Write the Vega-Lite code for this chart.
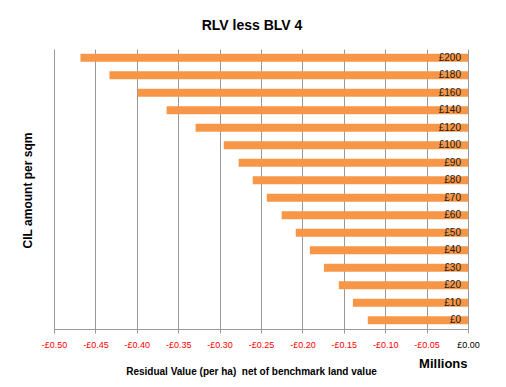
{
  "$schema": "https://vega.github.io/schema/vega-lite/v6.json",
  "autosize": {"type": "none"},
  "padding": {"left": 54, "top": 49, "right": 38, "bottom": 58},
  "width": 414,
  "height": 280,
  "background": "white",
  "title": {"text": "RLV less BLV 4", "font": "Liberation Sans", "fontSize": 14, "fontWeight": "bold", "color": "#000000", "anchor": "middle", "dx": -9, "offset": 16},
  "config": {"view": {"stroke": null}, "font": "Liberation Sans"},
  "data": {"values": [
    {"cil": "£0", "rv": -0.121},
    {"cil": "£10", "rv": -0.139},
    {"cil": "£20", "rv": -0.156},
    {"cil": "£30", "rv": -0.174},
    {"cil": "£40", "rv": -0.191},
    {"cil": "£50", "rv": -0.208},
    {"cil": "£60", "rv": -0.225},
    {"cil": "£70", "rv": -0.243},
    {"cil": "£80", "rv": -0.260},
    {"cil": "£90", "rv": -0.277},
    {"cil": "£100", "rv": -0.295},
    {"cil": "£120", "rv": -0.329},
    {"cil": "£140", "rv": -0.364},
    {"cil": "£160", "rv": -0.399},
    {"cil": "£180", "rv": -0.433},
    {"cil": "£200", "rv": -0.468}
  ]},
  "encoding": {
    "y": {
      "field": "cil", "type": "nominal",
      "sort": ["£200", "£180", "£160", "£140", "£120", "£100", "£90", "£80", "£70", "£60", "£50", "£40", "£30", "£20", "£10", "£0"],
      "scale": {"paddingInner": 0.54, "paddingOuter": 0.27},
      "axis": {"title": "CIL amount per sqm", "labels": false, "ticks": false, "domain": false, "grid": false,
               "titleFont": "Liberation Sans", "titleFontSize": 12, "titleFontWeight": "bold", "titleColor": "#000000",
               "titleX": -27, "titleY": 141, "titleAngle": -90, "titleBaseline": "middle", "titleAlign": "center"}
    }
  },
  "layer": [
    {
      "mark": {"type": "bar", "color": "#F79646"},
      "encoding": {
        "x": {"field": "rv", "type": "quantitative",
              "scale": {"domain": [-0.5, 0], "nice": false, "zero": false},
              "axis": {"values": [-0.5, -0.45, -0.4, -0.35, -0.3, -0.25, -0.2, -0.15, -0.1, -0.05, 0],
                       "labelExpr": "datum.value == 0 ? '£0.00' : '-£' + format(abs(datum.value), '.2f')",
                       "labelFont": "Liberation Sans", "labelFontSize": 9,
                       "labelColor": {"condition": {"test": "datum.value == 0", "value": "#000000"}, "value": "#ff0000"},
                       "labelPadding": 7, "labelFlush": false,
                       "tickSize": 4, "tickColor": "#999999", "domainColor": "#999999",
                       "grid": true, "gridColor": "#999999", "gridWidth": 1,
                       "title": "Residual Value (per ha)\u00a0 net of benchmark land value",
                       "titleFont": "Liberation Sans", "titleFontSize": 10, "titleFontWeight": "bold", "titleColor": "#000000",
                       "titleX": 197, "titleY": 42, "titleBaseline": "middle", "titleAlign": "center"}},
        "x2": {"datum": 0}
      }
    },
    {
      "mark": {"type": "text", "align": "right", "baseline": "middle", "dx": -7, "font": "Liberation Sans", "fontSize": 10, "color": "#1a1a1a"},
      "encoding": {
        "x": {"datum": 0, "type": "quantitative",
              "axis": {"orient": "bottom", "labels": false, "ticks": false, "domain": false, "grid": false,
                       "title": "Millions", "titleFont": "Liberation Sans", "titleFontSize": 13, "titleFontWeight": "bold", "titleColor": "#000000",
                       "titleX": 413, "titleY": 34, "titleBaseline": "middle", "titleAlign": "right"}},
        "text": {"field": "cil"}
      }
    }
  ],
  "resolve": {"axis": {"x": "independent"}}
}
